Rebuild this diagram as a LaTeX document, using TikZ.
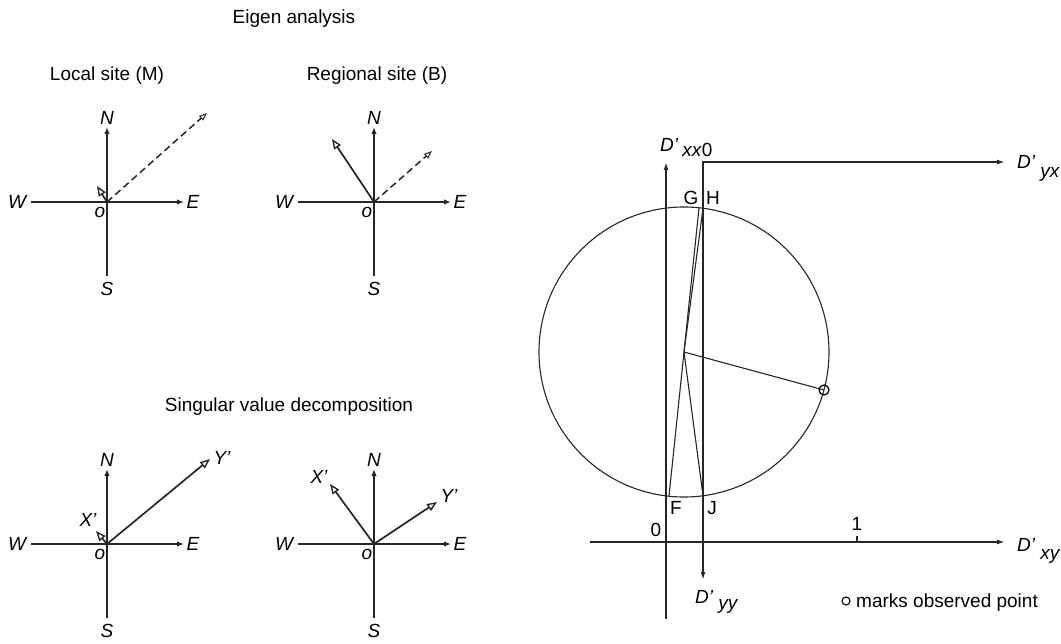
\documentclass[tikz,border=0pt]{standalone}
\usepackage{fontspec}
\setmainfont{Liberation Sans}
\usetikzlibrary{arrows.meta}
\newcommand\rosepanel[3]{%
\begin{scope}[shift={(#2,#3)}]
  \coordinate (#1o) at (0,0);
  \coordinate (#1n) at (0,-75);
  \coordinate (#1s) at (0,74);
  \coordinate (#1w) at (-76,0);
  \coordinate (#1e) at (77,0);
  \node[ilab] (#1N) at (0,-84) {N};
  \node[ilab] (#1S) at (0,87) {S};
  \node[ilab] (#1W) at (-90,0) {W};
  \node[ilab] (#1E) at (86,0) {E};
  \node[ilab] (#1O) at (-7,10) {o};
  \draw[axis] (#1o) -- (#1s);
  \draw[axis] (#1o) -- (#1w);
  \draw[axarrow] (#1o) -- (#1n);
  \draw[axarrow] (#1o) -- (#1e);
\end{scope}}
\newcommand\Dlab[2]{\textit{D’}\hspace{5pt}\raisebox{-#2}{\textit{#1}}}
\begin{document}
\begin{tikzpicture}[x=1pt,y=-1pt,
  lab/.style={font=\fontsize{19}{22}\selectfont, inner sep=0pt},
  ilab/.style={font=\fontsize{19}{22}\selectfont\itshape, inner sep=0pt},
  axis/.style={line width=2pt, draw=black!85},
  axarrow/.style={axis, -{Latex[length=7pt,width=5.5pt]}},
  openarrow/.style={line width=1.7pt, draw=black!85, -{Triangle[open,length=10pt,width=8pt,line width=1.4pt]}},
  dasharrow/.style={line width=1.5pt, draw=black!85, dash pattern=on 7pt off 4pt, -{Triangle[open,length=8pt,width=6pt,line width=1pt]}},
  raxis/.style={line width=1.6pt, draw=black!85},
  raxarrow/.style={raxis, -{Latex[length=8pt,width=5pt]}},
  thin line/.style={line width=1.1pt, draw=black!85}
]
\useasboundingbox (0,0) rectangle (1061,644);

% titles
\node[lab, anchor=base] (t1) at (294,24) {Eigen analysis};
\node[lab, anchor=base] (t2) at (107,81) {Local site (M)};
\node[lab, anchor=base] (t3) at (377,81) {Regional site (B)};
\node[lab, anchor=base] (t4) at (289,412) {Singular value decomposition};

% compass panels
\rosepanel{A}{107}{202}
\rosepanel{B}{374}{202}
\rosepanel{C}{107}{544}
\rosepanel{D}{374}{544}

% panel A arrows
\coordinate (Ax) at (97,186);
\coordinate (Ay) at (207,113);
\draw[openarrow] (Ao) -- (Ax);
\draw[dasharrow] (Ao) -- (Ay);
% panel B arrows
\coordinate (Bx) at (332,139);
\coordinate (By) at (432,151);
\draw[openarrow] (Bo) -- (Bx);
\draw[dasharrow] (Bo) -- (By);
% panel C arrows
\coordinate (Cx) at (96,531);
\coordinate (Cy) at (210,459);
\draw[openarrow] (Co) -- (Cx);
\draw[openarrow] (Co) -- (Cy);
\node[ilab] (CX) at (88,520) {X’};
\node[ilab] (CY) at (222,458) {Y’};
% panel D arrows
\coordinate (Dx) at (330,484);
\coordinate (Dy) at (437,502);
\draw[openarrow] (Do) -- (Dx);
\draw[openarrow] (Do) -- (Dy);
\node[ilab] (DX) at (319,477) {X’};
\node[ilab] (DY) at (449,496) {Y’};

% right diagram: axes
\coordinate (xxb) at (666,619);
\coordinate (xxt) at (666,162);
\coordinate (yyt) at (703,580);
\coordinate (yxt) at (1005,162);
\coordinate (xyl) at (590,542);
\coordinate (xyr) at (1005,542);
\draw[raxarrow] (xxb) -- (xxt);
\draw[raxis, {Latex[length=8pt,width=5pt]}-{Latex[length=8pt,width=5pt]}] (yyt) |- (yxt);
\draw[raxarrow] (xyl) -- (xyr);
\coordinate (tk) at (857,542);
\coordinate (tkt) at (857,536);
\draw[thin line] (tk) -- (tkt);

% circle
\coordinate (Ctr) at (684,352);
\draw[thin line] (Ctr) circle[radius=145];
\coordinate (G) at (699,208);
\coordinate (F) at (669,496);
\coordinate (H) at (703,208.3);
\coordinate (J) at (703,495.7);
\coordinate (P) at (824,390);
\draw[thin line] (G) -- (F);
\draw[thin line] (H) -- (Ctr) -- (J);
\draw[thin line] (Ctr) -- (P);
\node[draw, line width=1.2pt, circle, minimum size=10pt, inner sep=0pt] (Pm) at (P) {};

% labels
\node[lab] (Gl) at (691,198) {G};
\node[lab] (Hl) at (713,198) {H};
\node[lab] (Fl) at (676,508) {F};
\node[lab] (Jl) at (712,508) {J};
\node[lab] (zero) at (656,530) {0};
\node[lab] (one) at (857,524) {1};
\node[lab, anchor=base west] (Dxx) at (660,152) {\textit{D’}\hspace{4pt}\raisebox{-5pt}{\textit{xx}0}};
\node[lab, anchor=base west] (Dyx) at (1017,169) {\Dlab{yx}{9pt}};
\node[lab, anchor=base west] (Dxy) at (1017,551) {\Dlab{xy}{8pt}};
\node[lab, anchor=base west] (Dyy) at (695,603) {\Dlab{yy}{6pt}};

% legend
\node[draw, line width=1.1pt, circle, minimum size=8pt, inner sep=0pt] (legc) at (846,601) {};
\node[lab, anchor=base west] (legt) at (856,607) {marks observed point};
\end{tikzpicture}
\end{document}
